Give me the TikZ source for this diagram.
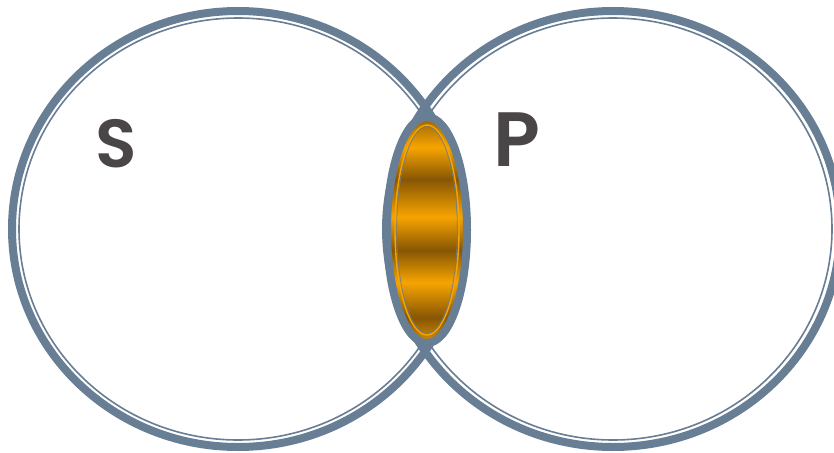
\documentclass[tikz,border=0pt]{standalone}
\usepackage{fontspec}
\newfontfamily\lblfont{Poppins}[UprightFont=* SemiBold]
\definecolor{rim}{RGB}{104,126,148}
\definecolor{lensgold}{RGB}{246,164,0}
\definecolor{lensbrown}{RGB}{135,86,4}
\definecolor{ink}{RGB}{74,69,70}
\pgfdeclareverticalshading{bands}{100bp}{color(0bp)=(lensgold); color(23bp)=(lensgold);
  color(30.6bp)=(lensbrown); color(38.4bp)=(lensgold); color(45.5bp)=(lensbrown);
  color(52.9bp)=(lensgold); color(61.2bp)=(lensbrown); color(68.3bp)=(lensgold);
  color(76.1bp)=(lensbrown); color(100bp)=(lensbrown)}
\begin{document}
\begin{tikzpicture}[x=1pt,y=-1pt,
  rimthick/.style={draw=rim,line width=8pt},
  rimthin/.style={draw=rim,line width=1.6pt},
  letter/.style={text=ink,inner sep=0pt}]
  \useasboundingbox (0,0) rectangle (834,452);
  \clip (0,0) rectangle (834,452);
  \coordinate (s) at (238,229);
  \coordinate (p) at (613,229);
  \coordinate (lens) at (427,230);
  \draw[rimthick] (s) ellipse [x radius=226,y radius=218];
  \draw[rimthin] (s) ellipse [x radius=219,y radius=211];
  \draw[rimthick] (p) ellipse [x radius=227,y radius=218];
  \draw[rimthin] (p) ellipse [x radius=219,y radius=211];
  \shade[shading=bands] (lens) ellipse [x radius=40,y radius=113];
  \draw[rimthick] (lens) ellipse [x radius=40,y radius=113];
  \draw[lensgold,line width=1.4pt] (lens) ellipse [x radius=32,y radius=105];
  \draw[rim,line width=0.6pt] (lens) ellipse [x radius=30.3,y radius=103.3];
  \node[letter,font=\lblfont\fontsize{68}{68}\selectfont] (S) at (116,144) {S};
  \node[letter,font=\lblfont\fontsize{77}{77}\selectfont] (P) at (517,140) {P};
\end{tikzpicture}
\end{document}
